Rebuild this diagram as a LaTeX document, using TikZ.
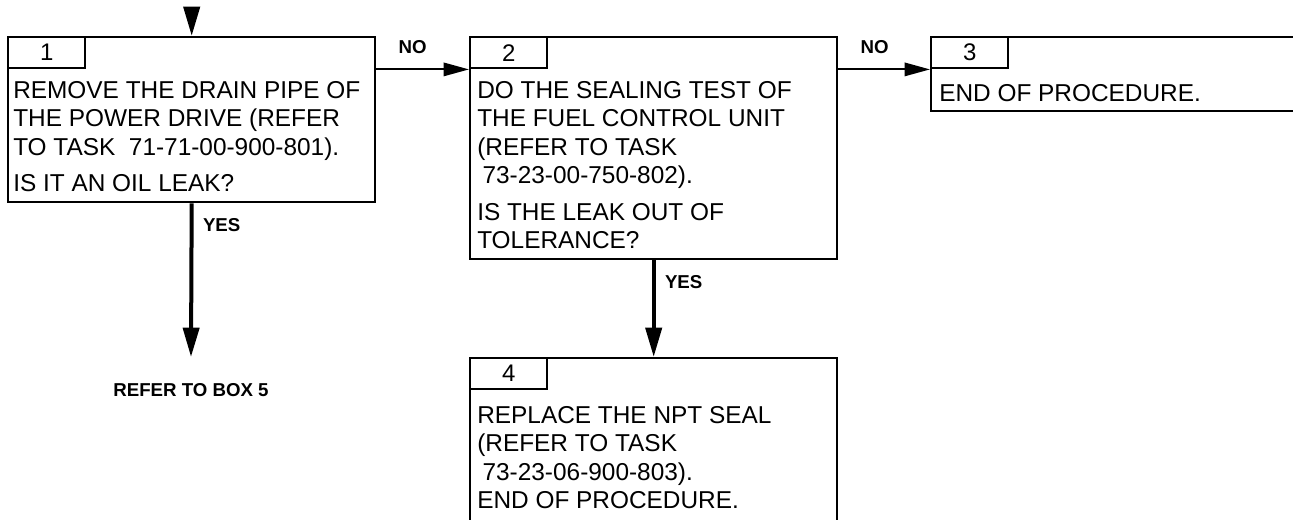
\documentclass[tikz,border=0pt]{standalone}
\usepackage{fontspec}
\setmainfont{Liberation Sans}
\usetikzlibrary{arrows.meta, positioning}

\begin{document}
\begin{tikzpicture}[x=0.75pt, y=-0.75pt,
    box/.style={draw, line width=1.8pt, anchor=north west, inner sep=0pt},
    numtab/.style={draw, line width=1.8pt, anchor=north west, inner sep=0pt,
        minimum width=77*\pxu, minimum height=31*\pxu, font=\fontsize{18}{21.4}\selectfont},
    txt/.style={anchor=north west, inner sep=0pt, align=left, font=\fontsize{18.3}{21.4}\selectfont},
    lbl/.style={inner sep=0pt, font=\fontsize{14}{16}\selectfont\bfseries},
    flowh/.style={line width=1.5pt, -{Triangle[length=19pt, width=10pt]}},
    flowv/.style={line width=3pt, -{Triangle[length=22pt, width=12pt]}}]

    % --- PARAMETERS ---
    \def\pxu{0.75pt}

    % page (pixel grid of the sheet)
    \useasboundingbox (0,0) rectangle (1293,519);
    \clip (0,0) rectangle (1293,519);

    % --- BOXES ---
    \node[box, minimum width=367*\pxu, minimum height=165*\pxu] (b1) at (7,36) {};
    \node[box, minimum width=367*\pxu, minimum height=222*\pxu] (b2) at (469,36) {};
    \node[box, minimum width=420*\pxu, minimum height=74*\pxu] (b3) at (930,36) {};
    \node[box, minimum width=367*\pxu, minimum height=180*\pxu] (b4) at (469,357) {};

    % number tabs
    \node[numtab] (n1) at (b1.north west) {1};
    \node[numtab] (n2) at (b2.north west) {2};
    \node[numtab] (n3) at (b3.north west) {3};
    \node[numtab] (n4) at (b4.north west) {4};

    % --- TEXTS ---
    \node[txt] (t1) at ([shift={(6,45)}]b1.north west)
        {REMOVE THE DRAIN PIPE OF\\THE POWER DRIVE (REFER\\TO TASK\ \ 71-71-00-900-801).\\[6pt]IS IT AN OIL LEAK?};
    \node[txt] (t2) at ([shift={(8,45)}]b2.north west)
        {DO THE SEALING TEST OF\\THE FUEL CONTROL UNIT\\(REFER TO TASK\\\hspace*{4pt}73-23-00-750-802).\\[6pt]IS THE LEAK OUT OF\\TOLERANCE?};
    \node[txt] (t3) at ([shift={(9,48)}]b3.north west) {END OF PROCEDURE.};
    \node[txt] (t4) at ([shift={(8,49)}]b4.north west)
        {REPLACE THE NPT SEAL\\(REFER TO TASK\\\hspace*{4pt}73-23-06-900-803).\\END OF PROCEDURE.};

    % --- CONNECTORS ---
    \coordinate (in1) at ([yshift=20pt]b1.north);
    \coordinate (ref5) at (191,357);
    \node[lbl] (r5) at (191,390) {REFER TO BOX 5};

    \draw[flowv] (in1) -- (b1.north);
    \draw[flowh] (b1.east |- n1.south) -- (n2.south west)
        node[lbl, at start, anchor=base west, xshift=16pt, yshift=12pt] {NO};
    \draw[flowh] (b2.east |- n2.south) -- (n3.south west)
        node[lbl, at start, anchor=base west, xshift=16pt, yshift=12pt] {NO};
    \draw[flowv] (b1.south) -- (ref5)
        node[lbl, at start, anchor=base west, xshift=7pt, yshift=-21pt] {YES};
    \draw[flowv] (b2.south) -- (b4.north)
        node[lbl, at start, anchor=base west, xshift=7pt, yshift=-21pt] {YES};
\end{tikzpicture}
\end{document}
